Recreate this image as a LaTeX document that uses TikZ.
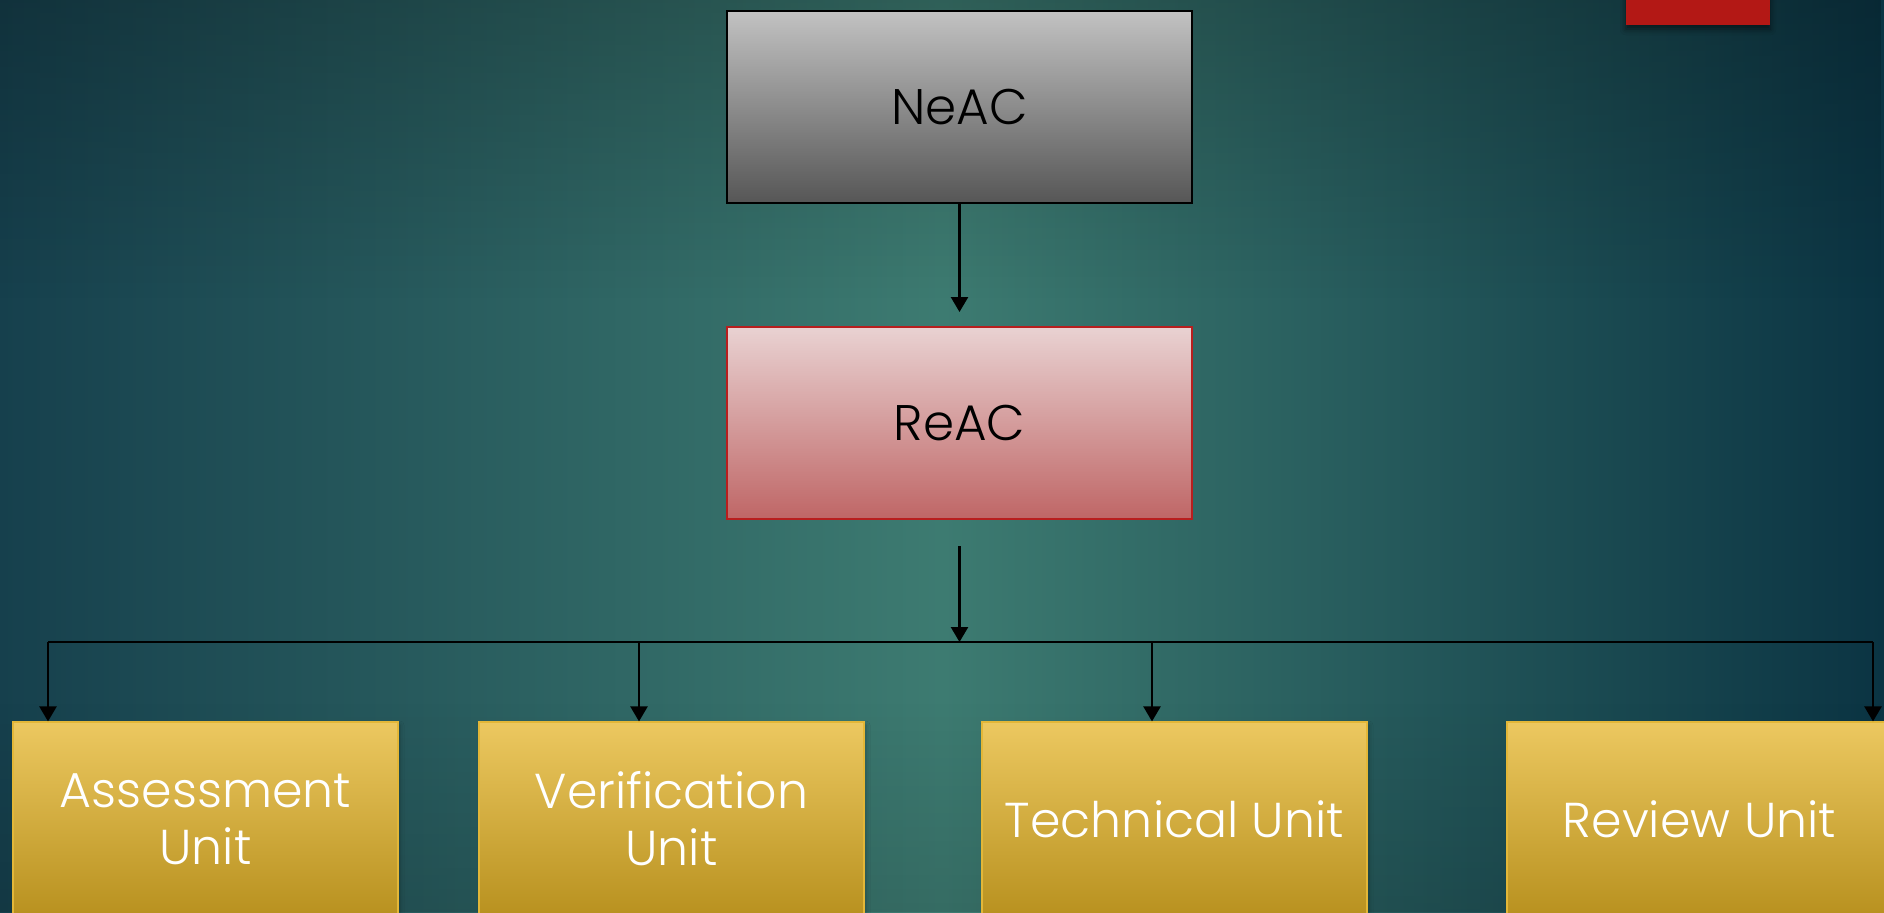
\documentclass[tikz,border=0pt]{standalone}
\usepackage{fontspec}
\setmainfont{Poppins}[UprightFont=* Light]
\usetikzlibrary{arrows.meta,calc,fadings,shadows,shadows.blur}

\definecolor{bgedgeL}{HTML}{16404D}
\definecolor{bgmid}{HTML}{3D7B71}
\definecolor{bgedgeR}{HTML}{0B3443}
\definecolor{greytop}{HTML}{C2C2C2}
\definecolor{greybot}{HTML}{565656}
\definecolor{pinktop}{HTML}{E9D2D2}
\definecolor{pinkbot}{HTML}{BF6666}
\definecolor{redline}{HTML}{B81E1E}
\definecolor{goldtop}{HTML}{ECC860}
\definecolor{goldbot}{HTML}{B8911F}
\definecolor{goldline}{HTML}{E3B738}
\definecolor{tabred}{HTML}{B31815}

\tikzset{
  topbox/.style={draw=black, line width=1pt, minimum width=232.5pt, minimum height=96pt,
    top color=greytop, bottom color=greybot, font=\fontsize{25}{28}\selectfont, text=black, inner sep=0pt},
  midbox/.style={draw=redline, line width=1pt, minimum width=232.5pt, minimum height=96pt,
    top color=pinktop, bottom color=pinkbot, font=\fontsize{25}{28}\selectfont, text=black, inner sep=0pt},
  unitbox/.style={draw=goldline, line width=0.6pt, minimum width=192.5pt, minimum height=97pt,
    top color=goldtop, bottom color=goldbot, font=\fontsize{24.5}{28.5}\selectfont, text=white,
    align=center, inner sep=0pt,
    blur shadow={shadow xshift=1pt, shadow yshift=-1.5pt, shadow blur radius=2pt, shadow opacity=25}},
  link/.style={draw=black, line width=1.2pt},
  arr/.style={link, -{Triangle[width=8.5pt,length=7.5pt]}}
}

\begin{document}
\begin{tikzpicture}[x=0.5pt,y=-0.5pt]
  % backdrop
  \useasboundingbox (0,0) rectangle (1884,912);
  \fill[left color=bgedgeL, right color=bgedgeR, middle color=bgmid] (0,0) rectangle (1884,912);
  \fill[black, opacity=0.22, path fading=south] (0,0) rectangle (1884,300);
  \fill[black, opacity=0.12, path fading=north] (0,700) rectangle (1884,912);

  % corner tab
  \fill[tabred, blur shadow={shadow xshift=0pt, shadow yshift=-2pt, shadow blur radius=3pt, shadow opacity=55}]
    (1626,-10) rectangle (1770,25);

  % hierarchy boxes
  \node[topbox] (neac) at (959.5,107) {NeAC};
  \node[midbox] (reac) at (959.5,423) {ReAC};

  \node[unitbox] (assess) at (205.5,819) {Assessment\\Unit};
  \node[unitbox] (verif)  at (671.5,819) {Verification\\Unit};
  \node[unitbox] (tech)   at (1174.5,819) {Technical Unit};
  \node[unitbox] (review) at (1699.5,819) {Review Unit};

  % connectors
  \coordinate (reacin)  at ($(reac.north)+(0,-14)$);
  \coordinate (reacout) at ($(reac.south)+(0,26)$);
  \coordinate (hub)  at (959.5,642);
  \coordinate (busA) at (48,642);
  \coordinate (busV) at (639,642);
  \coordinate (busT) at (1152,642);
  \coordinate (busR) at (1873,642);

  \draw[arr] (neac.south) -- (reacin);
  \draw[arr] (reacout) -- (hub);
  \draw[link] (busA) -- (busR);
  \draw[arr] (busA) -- (busA |- assess.north);
  \draw[arr] (busV) -- (busV |- verif.north);
  \draw[arr] (busT) -- (busT |- tech.north);
  \draw[arr] (busR) -- (busR |- review.north);
\end{tikzpicture}
\end{document}
